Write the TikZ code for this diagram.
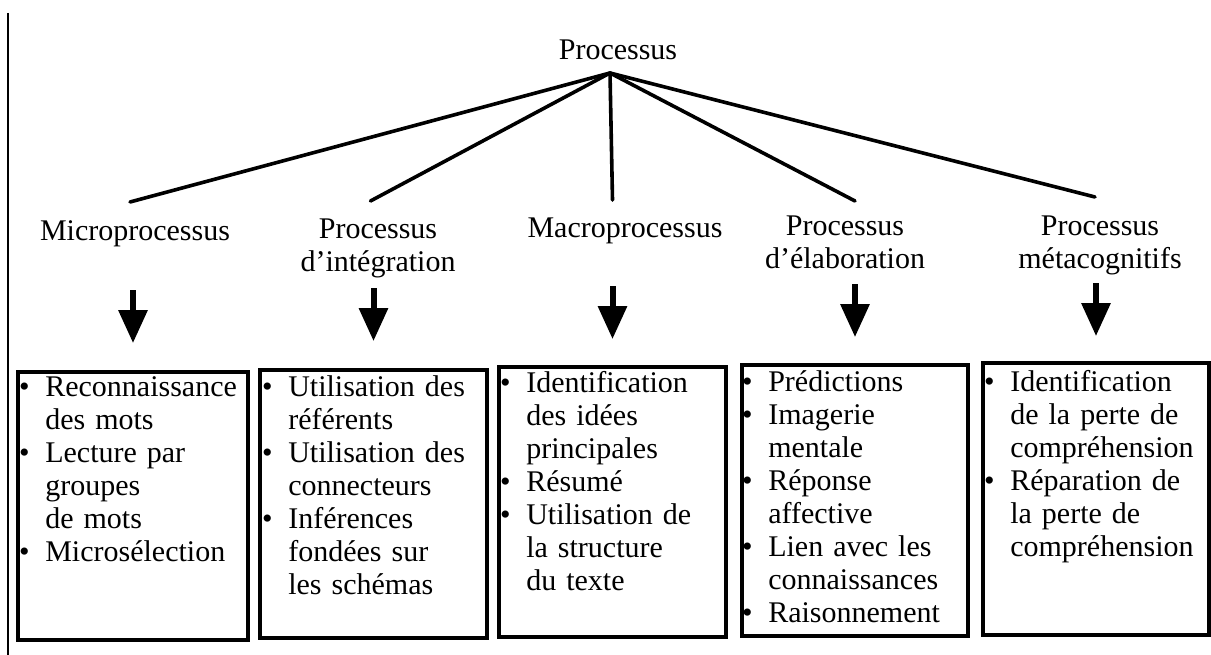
\documentclass[tikz,border=0pt]{standalone}
\usepackage{fontspec}
\setmainfont{Liberation Serif}
\usetikzlibrary{arrows.meta}
\newcommand{\itembul}{\leavevmode\llap{•\hspace{15.75pt}}}
\newcommand{\firststrut}{\rule{0pt}{22pt}}
\tikzset{
  lab/.style={font=\fontsize{30}{33}\selectfont, align=center, inner sep=0pt, anchor=north},
  conn/.style={line width=3.6pt, line cap=round},
  boxst/.style={draw, line width=3.8pt, inner sep=0pt},
  listtext/.style={font=\fontsize{30}{33}\selectfont, text width=205pt, align=left, inner sep=0pt, anchor=north west},
  downarr/.style={line width=6pt, -{Triangle[length=33pt,width=28pt]}},
}
\begin{document}
\begin{tikzpicture}[x=1pt,y=-1pt]
\useasboundingbox (0,0) rectangle (1211,655);
\fill[white] (0,0) rectangle (1211,655);
% left margin rule
\draw[line width=1.5pt] (8,13) -- (8,655);

% top node
\node[font=\fontsize{30}{33}\selectfont, inner sep=0pt, anchor=base] (top) at (618,60) {Processus};
\coordinate (apex) at ([xshift=-8pt,yshift=-13pt]top.base);

% category labels
\node[lab] (l1) at (135,218) {\firststrut Microprocessus};
\node[lab] (l2) at (378,216) {\firststrut Processus\\d’intégration};
\node[lab] (l3) at (625,215) {\firststrut Macroprocessus};
\node[lab] (l4) at (845,213) {\firststrut Processus\\d’élaboration};
\node[lab] (l5) at (1100,213) {\firststrut Processus\\métacognitifs};

% boxes
\node[boxst, minimum width=230pt, minimum height=268pt] (b1) at (133,506) {};
\node[boxst, minimum width=227pt, minimum height=268pt] (b2) at (373.5,504) {};
\node[boxst, minimum width=227pt, minimum height=270pt] (b3) at (612.5,502) {};
\node[boxst, minimum width=226pt, minimum height=271pt] (b4) at (855,500.5) {};
\node[boxst, minimum width=226pt, minimum height=272pt] (b5) at (1096,499) {};

% connectors from the top
\draw[conn] (apex) -- ([xshift=-3pt,yshift=16pt]l1.north -| b1.north);
\draw[conn] (apex) -- ([xshift=-3pt,yshift=15pt]l2.north -| b2.north);
\draw[conn] (apex) -- ([yshift=15pt]l3.north -| b3.north);
\draw[conn] (apex) -- ([yshift=12pt]l4.north -| b4.north);
\draw[conn] (apex) -- ([xshift=-1pt,yshift=16pt]l5.north -| b5.north);

% down arrows
\draw[downarr] ([yshift=80pt]b1.north) -- ([yshift=27pt]b1.north);
\draw[downarr] ([yshift=80pt]b2.north) -- ([yshift=27pt]b2.north);
\draw[downarr] ([yshift=79pt]b3.north) -- ([yshift=26pt]b3.north);
\draw[downarr] ([yshift=79pt]b4.north) -- ([yshift=26pt]b4.north);
\draw[downarr] ([yshift=78pt]b5.north) -- ([yshift=25pt]b5.north);

% box texts
\node[listtext] (t1) at ([xshift=29pt,yshift=-4pt]b1.north west) {\itembul\firststrut Reconnaissance\\
des mots\\
\itembul Lecture par\\
groupes\\
de mots\\
\itembul Microsélection};

\node[listtext] (t2) at ([xshift=30pt,yshift=-6pt]b2.north west) {\itembul\firststrut Utilisation des\\
référents\\
\itembul Utilisation des\\
connecteurs\\
\itembul Inférences\\
fondées sur\\
les schémas};

\node[listtext] (t3) at ([xshift=29pt,yshift=-5pt]b3.north west) {\itembul\firststrut Identification\\
des idées\\
principales\\
\itembul Résumé\\
\itembul Utilisation de\\
la structure\\
du texte};

\node[listtext] (t4) at ([xshift=28pt,yshift=-6pt]b4.north west) {\itembul\firststrut Prédictions\\
\itembul Imagerie\\
mentale\\
\itembul Réponse\\
affective\\
\itembul Lien avec les\\
connaissances\\
\itembul Raisonnement};

\node[listtext] (t5) at ([xshift=29pt,yshift=-8pt]b5.north west) {\itembul\firststrut Identification\\
de la perte de\\
compréhension\\
\itembul Réparation de\\
la perte de\\
compréhension};
\end{tikzpicture}
\end{document}
